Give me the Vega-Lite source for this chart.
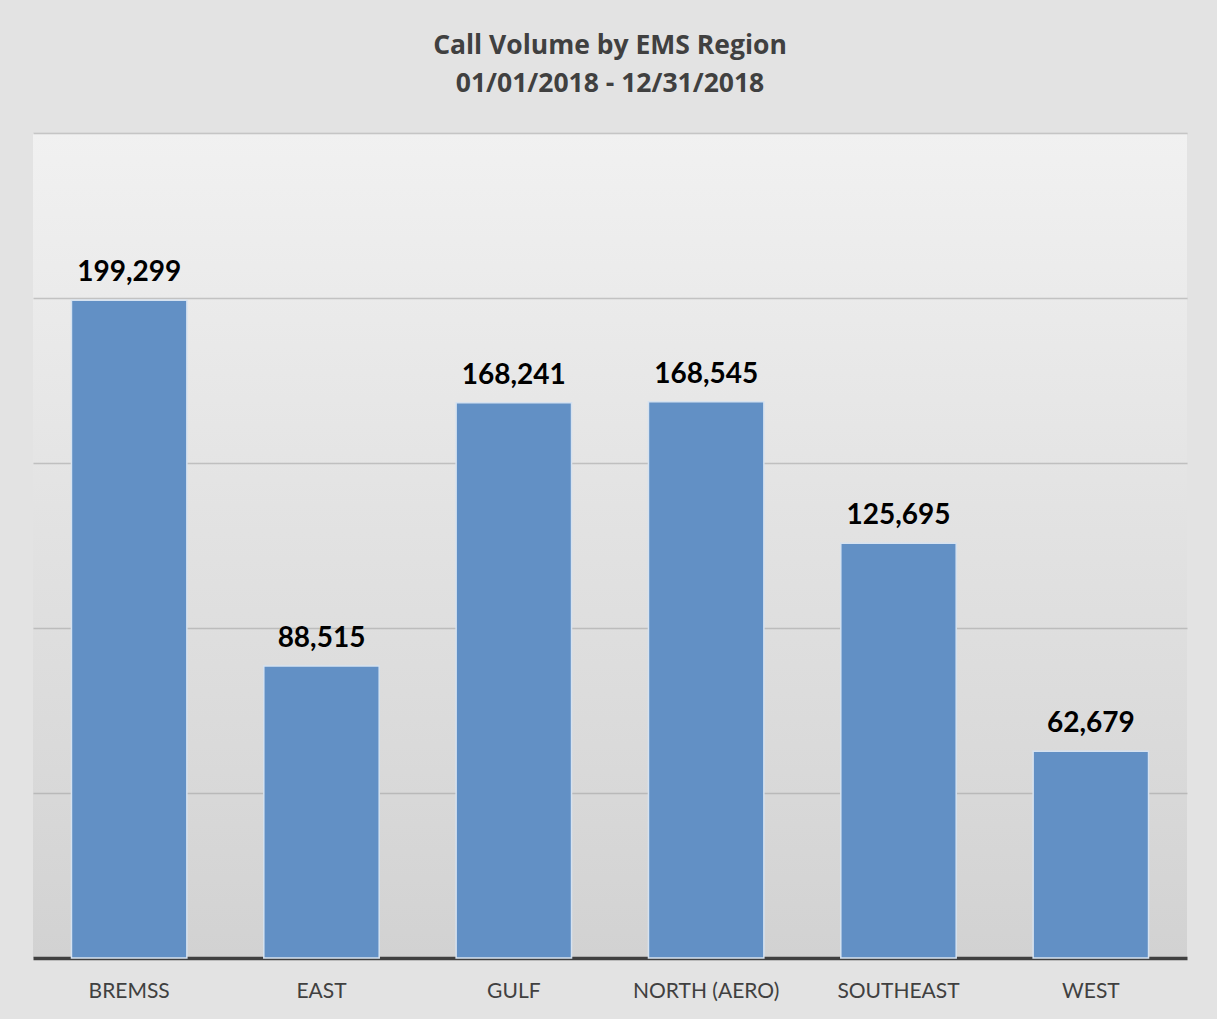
{
  "$schema": "https://vega.github.io/schema/vega-lite/v6.json",
  "width": 1154,
  "height": 825,
  "autosize": {"type": "none"},
  "padding": {"left": 33, "top": 133, "right": 30, "bottom": 61},
  "background": "#e3e3e3",
  "title": {
    "text": ["Call Volume by EMS Region", "01/01/2018 - 12/31/2018"],
    "font": "Open Sans",
    "fontSize": 26.5,
    "fontWeight": "bold",
    "color": "#404040",
    "anchor": "middle",
    "frame": "group",
    "offset": 36,
    "lineHeight": 38
  },
  "config": {
    "view": {
      "stroke": null,
      "fill": {
        "gradient": "linear",
        "x1": 0, "y1": 0, "x2": 0, "y2": 1,
        "stops": [
          {"offset": 0, "color": "#f1f1f1"},
          {"offset": 1, "color": "#d2d2d2"}
        ]
      }
    }
  },
  "data": {
    "values": [
      {"region": "BREMSS", "calls": 199299},
      {"region": "EAST", "calls": 88515},
      {"region": "GULF", "calls": 168241},
      {"region": "NORTH (AERO)", "calls": 168545},
      {"region": "SOUTHEAST", "calls": 125695},
      {"region": "WEST", "calls": 62679}
    ]
  },
  "encoding": {
    "x": {
      "field": "region",
      "type": "nominal",
      "sort": null,
      "scale": {"paddingInner": 0.4, "paddingOuter": 0.2},
      "axis": {
        "title": null,
        "labelAngle": 0,
        "labelFont": "Lato",
        "labelFontSize": 21,
        "labelColor": "#404040",
        "labelBaseline": "alphabetic",
        "labelPadding": 39,
        "ticks": false,
        "tickSize": 0,
        "domainColor": "#404040",
        "domainWidth": 3.5,
        "grid": false
      }
    },
    "y": {
      "field": "calls",
      "type": "quantitative",
      "scale": {"domain": [0, 250000], "nice": false},
      "axis": {
        "title": null,
        "labels": false,
        "ticks": false,
        "domain": false,
        "values": [50000, 100000, 150000, 200000, 250000],
        "gridColor": "#9a9a9a",
        "gridOpacity": 0.5,
        "gridWidth": 1.5
      }
    }
  },
  "layer": [
    {
      "mark": {"type": "bar", "color": "#6290c5", "stroke": "#d6e2f0", "strokeWidth": 1.5}
    },
    {
      "mark": {
        "type": "text",
        "font": "Lato",
        "fontSize": 28,
        "fontWeight": "bold",
        "color": "#000000",
        "baseline": "alphabetic",
        "dy": -19
      },
      "encoding": {
        "text": {"field": "calls", "type": "quantitative", "format": ","}
      }
    }
  ]
}
